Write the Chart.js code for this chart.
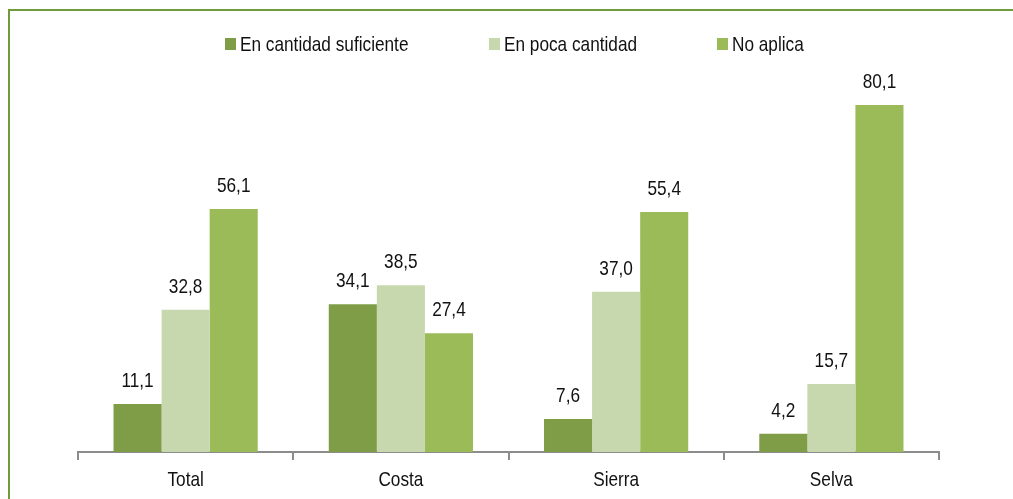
<!DOCTYPE html>
<html>
<head>
<meta charset="utf-8">
<script src="https://cdn.jsdelivr.net/npm/chart.js@4/dist/chart.umd.min.js"></script>
<style>
  body { margin: 0; background: #fff; overflow: hidden; }
  #wrap { position: relative; width: 1013px; height: 499px; }
  #marco { position: absolute; left: 8px; top: 9px; right: 0; bottom: 0; border-left: 2px solid #6f9a3e; border-top: 2px solid #6f9a3e; }
  #leyenda { position: absolute; top: 0; left: 0; width: 1013px; height: 60px; font-family: 'Liberation Sans', Arial, sans-serif; font-size: 21px; color: #111; }
  .caja { position: absolute; top: 38px; width: 11px; height: 12px; }
  .texto { position: absolute; top: 32px; height: 24px; line-height: 24px; white-space: nowrap; transform: scaleX(0.82); transform-origin: 0 0; }
  canvas { position: absolute; left: 0; top: 0; }
</style>
</head>
<body>
<div id="wrap">
  <div id="marco"></div>
  <canvas id="grafico" width="1013" height="499"></canvas>
  <div id="leyenda"></div>
</div>
<script>
var categorias = ['Total', 'Costa', 'Sierra', 'Selva'];
var series = ['En cantidad suficiente', 'En poca cantidad', 'No aplica'];
var cantidadSuficiente = [11.1, 34.1, 7.6, 4.2];
var pocaCantidad = [32.8, 38.5, 37.0, 15.7];
var noAplica = [56.1, 27.4, 55.4, 80.1];
var colores = ['#7f9c47', '#c8d8ae', '#9bbb59'];
var posLeyenda = [225, 489, 717];

// no hay Arial Narrow: se comprime la Liberation Sans a lo ancho
var fuente = "'Liberation Sans', Arial, sans-serif";
var estrecho = 0.82;

var leyenda = document.getElementById('leyenda');
for (var i = 0; i < series.length; i++)
{
    var c = document.createElement('div');
    c.className = 'caja';
    c.style.left = posLeyenda[i] + 'px';
    c.style.background = colores[i];
    leyenda.appendChild(c);

    var t = document.createElement('div');
    t.className = 'texto';
    t.style.left = (posLeyenda[i] + 15) + 'px';
    t.textContent = series[i];
    leyenda.appendChild(t);
}

function textoEstrecho(ctx, txt, x, y)
{
    ctx.save();
    ctx.translate(x, y);
    ctx.scale(estrecho, 1);
    ctx.fillText(txt, 0, 0);
    ctx.restore();
}

var etiquetas = {
    id: 'etiquetas',
    afterDatasetsDraw: function (chart) {
        var ctx = chart.ctx;
        ctx.save();
        ctx.font = '21px ' + fuente;
        ctx.fillStyle = '#111';
        ctx.textAlign = 'center';
        ctx.textBaseline = 'alphabetic';
        chart.data.datasets.forEach(function (ds, i) {
            chart.getDatasetMeta(i).data.forEach(function (bar, j) {
                textoEstrecho(ctx, ds.data[j].toFixed(1).replace('.', ','), bar.x, bar.y - 17);
            });
        });
        // nombres de las categorias
        var ejeX = chart.scales.x;
        chart.data.labels.forEach(function (lab, j) {
            textoEstrecho(ctx, lab, ejeX.getPixelForTick(j), ejeX.top + 34);
        });
        ctx.restore();
    }
};

var data = {
    labels: categorias,
    datasets: [
        { label: series[0], data: cantidadSuficiente, backgroundColor: colores[0] },
        { label: series[1], data: pocaCantidad, backgroundColor: colores[1] },
        { label: series[2], data: noAplica, backgroundColor: colores[2] }
    ]
};

var ctx = document.getElementById('grafico');
var miGrafico = new Chart(ctx, {
    type: 'bar',
    data: data,
    plugins: [etiquetas],
    options: {
        responsive: false,
        animation: false,
        layout: { padding: { left: 78, right: 74, top: 62, bottom: 7 } },
        datasets: { bar: { categoryPercentage: 0.67, barPercentage: 1.0, borderWidth: 0 } },
        plugins: {
            legend: { display: false },
            tooltip: { enabled: false }
        },
        scales: {
            x: {
                grid: { offset: true, drawOnChartArea: false, drawTicks: true, tickLength: 8, color: '#8c8c8c', lineWidth: 2 },
                border: { display: true, color: '#8c8c8c', width: 2 },
                ticks: { color: 'rgba(0,0,0,0)', padding: 4, font: { family: fuente, size: 20 } }
            },
            y: {
                display: false,
                min: 0,
                max: 90
            }
        }
    }
});
</script>
</body>
</html>
